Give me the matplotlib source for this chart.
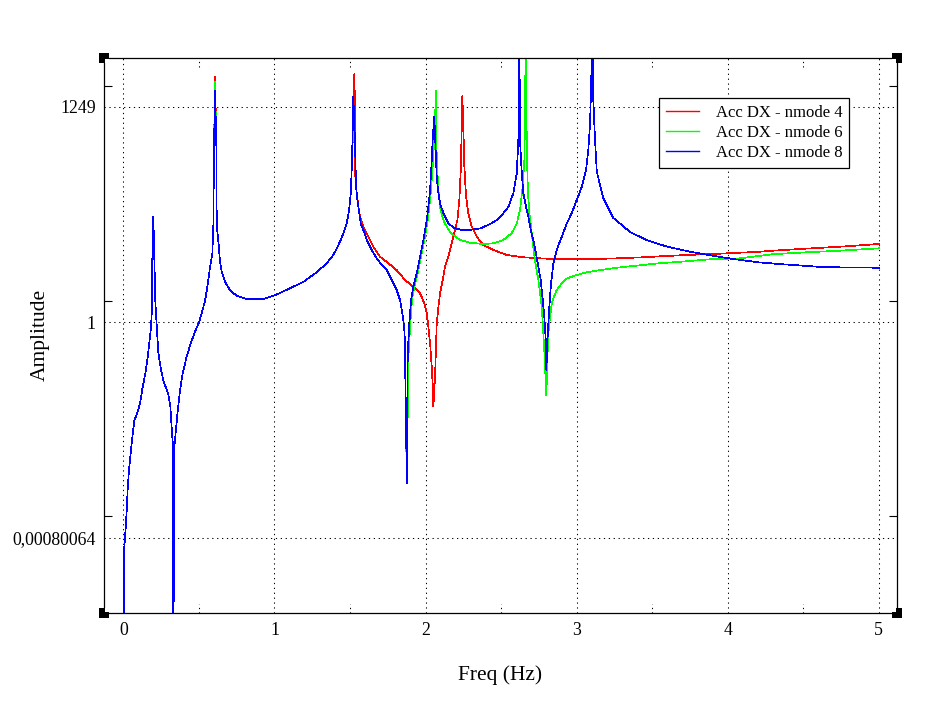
import numpy as np
import matplotlib.pyplot as plt
from matplotlib.patches import Rectangle
import matplotlib.transforms as mtransforms

plt.rcParams['font.family'] = ['Liberation Serif', 'DejaVu Serif']

# tramo comun a los tres modos (amplitud en log10)
freq_low_a = [0.004, 0.0066, 0.016, 0.0225, 0.029, 0.0377, 0.049, 0.0596, 0.0728, 0.0927,
              0.1105, 0.128, 0.146, 0.159, 0.172, 0.1833, 0.19, 0.192, 0.1985, 0.205,
              0.212, 0.221, 0.2316, 0.2495, 0.269, 0.296, 0.311, 0.320, 0.329, 0.331,
              0.3375, 0.349, 0.360, 0.375, 0.393, 0.4196, 0.446, 0.4745, 0.501, 0.519,
              0.5414, 0.556, 0.574, 0.589, 0.5957, 0.600]
logamp_low_a = [-5.0, -3.23, -2.94, -2.70, -2.38, -2.12, -1.88, -1.65, -1.41, -1.30,
                -1.16, -0.93, -0.73, -0.54, -0.30, -0.06, 0.22, 0.94, 1.52, 0.94,
                0.28, -0.06, -0.44, -0.69, -0.87, -1.02, -1.21, -1.52, -1.79, -5.0,
                -1.79, -1.52, -1.27, -0.98, -0.73, -0.49, -0.30, -0.135, 0.0, 0.13,
                0.32, 0.51, 0.80, 0.99, 1.40, 2.52]

# punta del pico a 0.6 Hz (nmode 4, 6, 8)
peak06_freq = 0.607
peak06_logamp = [3.53, 3.46, 3.33]

freq_low_b = [0.6155, 0.618, 0.629, 0.640, 0.651, 0.673, 0.706, 0.7505, 0.8167, 0.87,
              0.9265, 1.015, 1.103, 1.191, 1.28, 1.346, 1.39, 1.412, 1.434, 1.456,
              1.478, 1.494, 1.505, 1.5136]
logamp_low_b = [2.54, 1.40, 1.16, 0.87, 0.73, 0.58, 0.46, 0.38, 0.335, 0.33,
                0.335, 0.40, 0.49, 0.58, 0.72, 0.85, 0.97, 1.06, 1.16, 1.28,
                1.42, 1.615, 1.855, 2.33]

# nmode 4
freq_m4 = [1.5248, 1.5288, 1.5334, 1.5354, 1.5447, 1.5553, 1.5665, 1.588, 1.6214, 1.6545,
           1.699, 1.754, 1.809, 1.864, 1.919, 1.9636, 1.992, 2.008, 2.0185, 2.030,
           2.041, 2.048, 2.0516, 2.063, 2.074, 2.085, 2.096, 2.114, 2.129, 2.151,
           2.173, 2.195, 2.2105, 2.2237, 2.233, 2.2396, 2.2436, 2.250, 2.2568, 2.268,
           2.283, 2.306, 2.339, 2.3825, 2.449, 2.537, 2.647, 2.758, 2.868, 3.044,
           3.243, 3.441, 3.596, 3.729, 3.949, 4.214, 4.302, 4.523, 4.743, 5.0]
logamp_m4 = [3.05, 3.57, 3.02, 2.09, 1.855, 1.66, 1.52, 1.375, 1.23, 1.087,
             0.943, 0.85, 0.75, 0.61, 0.51, 0.417, 0.273, 0.13, -0.063, -0.30,
             -0.64, -0.926, -1.21, -0.78, -0.014, 0.224, 0.417, 0.61, 0.80, 0.943,
             1.136, 1.33, 1.47, 1.76, 2.19, 2.81, 3.255, 2.81, 2.24, 1.81,
             1.57, 1.375, 1.23, 1.11, 1.04, 0.968, 0.935, 0.92, 0.906, 0.906,
             0.918, 0.935, 0.954, 0.968, 0.987, 1.015, 1.03, 1.06, 1.087, 1.126]

# nmode 6
freq_m6 = [1.525, 1.5354, 1.540, 1.5487, 1.558, 1.571, 1.588, 1.611, 1.644, 1.677,
           1.710, 1.743, 1.776, 1.809, 1.831, 1.8465, 1.858, 1.862, 1.871, 1.875,
           1.888, 1.899, 1.910, 1.925, 1.948, 1.970, 1.992, 2.014, 2.025, 2.036,
           2.050, 2.058, 2.0695, 2.074, 2.085, 2.096, 2.118, 2.151, 2.184, 2.228,
           2.295, 2.3825, 2.449, 2.515, 2.570, 2.6036, 2.6254, 2.643, 2.654, 2.6585,
           2.663, 2.667, 2.674, 2.678, 2.687, 2.703, 2.718, 2.731, 2.7465, 2.758,
           2.769, 2.7796, 2.789, 2.7955, 2.7995, 2.806, 2.8127, 2.824, 2.835, 2.850,
           2.868, 2.901, 2.9345, 3.0006, 3.0668, 3.155, 3.265, 3.375, 3.552, 3.684,
           3.905, 4.081, 4.302, 4.523, 4.743, 5.0]
logamp_m6 = [3.1, 2.38, 1.95, 1.76, 1.615, 1.42, 1.33, 1.185, 1.04, 0.92,
             0.825, 0.75, 0.61, 0.465, 0.32, 0.13, -0.063, -0.21, -1.45, -2.30,
             -0.446, -0.014, 0.32, 0.51, 0.705, 0.94, 1.18, 1.47, 1.66, 1.90,
             2.33, 2.67, 3.33, 2.33, 1.90, 1.66, 1.47, 1.33, 1.255, 1.185,
             1.145, 1.126, 1.136, 1.185, 1.28, 1.42, 1.615, 1.95, 2.33, 3.05,
             4.2, 3.0, 2.14, 1.855, 1.57, 1.28, 0.99, 0.80, 0.61, 0.42,
             0.22, -0.16, -0.54, -0.88, -1.05, -0.54, -0.16, 0.08, 0.27, 0.37,
             0.465, 0.56, 0.63, 0.68, 0.72, 0.75, 0.785, 0.81, 0.85, 0.87,
             0.91, 0.92, 0.98, 1.007, 1.03, 1.064]

# nmode 8
freq_m8 = [1.518, 1.522, 1.5288, 1.5354, 1.540, 1.5487, 1.558, 1.571, 1.588, 1.611,
           1.644, 1.677, 1.710, 1.743, 1.776, 1.809, 1.831, 1.8465, 1.858, 1.862,
           1.871, 1.8756, 1.882, 1.893, 1.904, 1.919, 1.942, 1.9636, 1.9854, 2.008,
           2.0185, 2.030, 2.041, 2.048, 2.058, 2.0675, 2.074, 2.085, 2.096, 2.118,
           2.151, 2.195, 2.240, 2.295, 2.361, 2.4156, 2.471, 2.515, 2.548, 2.581,
           2.6036, 2.614, 2.619, 2.621, 2.625, 2.637, 2.647, 2.665, 2.680, 2.696,
           2.713, 2.731, 2.7465, 2.762, 2.7757, 2.786, 2.7955, 2.7995, 2.809, 2.819,
           2.8306, 2.846, 2.868, 2.901, 2.9345, 2.9676, 3.0006, 3.034, 3.062, 3.077,
           3.0887, 3.095, 3.104, 3.110, 3.1217, 3.133, 3.177, 3.243, 3.353, 3.464,
           3.596, 3.750, 3.905, 4.037, 4.214, 4.368, 4.589, 4.743, 5.0]
logamp_m8 = [2.81, 3.24, 2.885, 2.38, 1.95, 1.76, 1.615, 1.42, 1.33, 1.185,
             1.04, 0.92, 0.825, 0.75, 0.61, 0.465, 0.32, 0.13, -0.063, -0.21,
             -1.45, -2.32, -0.446, -0.014, 0.32, 0.51, 0.705, 0.94, 1.18, 1.47,
             1.66, 1.90, 2.33, 2.67, 2.96, 2.43, 2.09, 1.855, 1.71, 1.57,
             1.42, 1.35, 1.33, 1.33, 1.35, 1.40, 1.47, 1.57, 1.66, 1.855,
             2.14, 2.62, 3.20, 4.2, 2.62, 2.14, 1.855, 1.66, 1.52, 1.33,
             1.18, 0.99, 0.80, 0.61, 0.32, 0.08, -0.255, -0.685, -0.16, 0.22,
             0.56, 0.85, 1.04, 1.23, 1.42, 1.57, 1.76, 1.95, 2.19, 2.48,
             2.86, 3.34, 4.2, 3.2, 2.62, 2.17, 1.78, 1.50, 1.30, 1.18,
             1.09, 1.015, 0.955, 0.91, 0.86, 0.834, 0.80, 0.79, 0.785]

labels = ['Acc DX - nmode 4', 'Acc DX - nmode 6', 'Acc DX - nmode 8']
colors = ['#ff0000', '#00ff00', '#0000ff']
freq_hi = [freq_m4, freq_m6, freq_m8]
logamp_hi = [logamp_m4, logamp_m6, logamp_m8]

ytick_vals = [1 / 1249, 1, 1249]
ytick_labels = ['0,00080064', '1', '1249']
xtick_vals = [0, 1, 2, 3, 4, 5]

W, H = 943, 703
fig = plt.figure(figsize=(W / 100, H / 100), dpi=100)
x0, x1, y0, y1 = 104, 897.3, 89.7, 645   # caja de ejes en pixeles
ax = fig.add_axes([x0 / W, y0 / H, (x1 - x0) / W, (y1 - y0) / H])

for i in range(3):
    f = np.concatenate([freq_low_a, [peak06_freq], freq_low_b, freq_hi[i]])
    la = np.concatenate([logamp_low_a, [peak06_logamp[i]], logamp_low_b, logamp_hi[i]])
    ax.plot(f, 10 ** la, color=colors[i], lw=0.5, antialiased=False, label=labels[i])

ax.set_yscale('log')
ax.set_xlim(-0.128, 5.122)
ax.set_ylim(10 ** -4.185, 10 ** 3.801)

ax.set_xticks(xtick_vals)
ax.set_xticklabels([str(v) for v in xtick_vals])
ax.set_yticks(ytick_vals)
ax.set_yticklabels(ytick_labels)
ax.set_yticks([2.02 * v for v in ytick_vals], minor=True)
ax.yaxis.set_minor_formatter(plt.NullFormatter())
ax.set_xticks([], minor=True)
ax.tick_params(which='major', length=0, pad=6, labelsize=12.8)
ax.tick_params(axis='y', which='minor', direction='in', length=6, width=0.8,
               left=True, right=True)

ax.grid(True, which='major', color='black', linestyle=(0, (1.2, 3.5)), linewidth=0.75)
for s in ax.spines.values():
    s.set_linewidth(0.9)

# marcas secundarias punteadas en x
trans = mtransforms.blended_transform_factory(ax.transData, ax.transAxes)
for xm in [0.5, 1.5, 2.5, 3.5, 4.5]:
    ax.plot([xm, xm], [0, 0.016], transform=trans, color='black', lw=0.75,
            linestyle=(0, (1.2, 3.0)), clip_on=False)
    ax.plot([xm, xm], [0.984, 1.0], transform=trans, color='black', lw=0.75,
            linestyle=(0, (1.2, 3.0)), clip_on=False)

leg = ax.legend(loc='upper left', bbox_to_anchor=(0.700, 0.9274), borderaxespad=0,
                fancybox=False, framealpha=1, edgecolor='black', fontsize=12,
                handlelength=2.0, handletextpad=1.0, borderpad=0.4, labelspacing=0.25)
leg.get_frame().set_linewidth(0.9)
for h in leg.get_lines():
    h.set_linewidth(1.0)

fig.text(500 / W, 1 - 675 / H, 'Freq (Hz)', ha='center', va='center', fontsize=15.5)
fig.text(40 / W, 1 - 335 / H, 'Amplitude', ha='center', va='center', rotation=90,
         fontsize=15.5)

# cuadrados negros en las esquinas
for cx, cy, sx, sy in [(x0, y0, 1, 1), (x1, y0, -1, 1), (x0, y1, 1, -1), (x1, y1, -1, -1)]:
    fig.add_artist(Rectangle(((cx - 5) / W, (cy - 5) / H), 10 / W, 10 / H,
                             transform=fig.transFigure, facecolor='black', edgecolor='none'))
    wx = cx + 1 if sx > 0 else cx - 5
    wy = cy + 1 if sy > 0 else cy - 5
    fig.add_artist(Rectangle((wx / W, wy / H), 4 / W, 4 / H,
                             transform=fig.transFigure, facecolor='white', edgecolor='none'))

fig.savefig('out.png', dpi=100, facecolor='white')
